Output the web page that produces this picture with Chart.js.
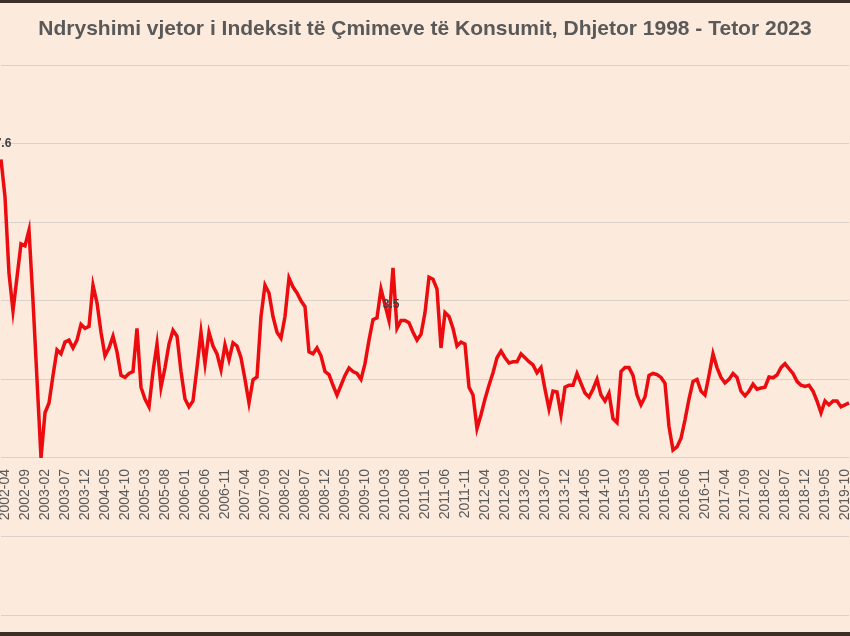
<!DOCTYPE html>
<html>
<head>
<meta charset="utf-8">
<script src="https://cdn.jsdelivr.net/npm/chart.js@4.4.0/dist/chart.umd.min.js"></script>
<style>
  html, body { margin: 0; padding: 0; background: #3b2f27; }
  body { width: 850px; height: 636px; overflow: hidden; position: relative; }
  #wrap { position: absolute; left: 0; top: 3px; width: 850px; height: 629px; background: #fcebdd; }
</style>
</head>
<body>
<div id="wrap"><canvas id="chart" width="850" height="629"></canvas></div>
<script>
const titleText = 'Ndryshimi vjetor i Indeksit të Çmimeve të Konsumit, Dhjetor 1998 - Tetor 2023';

// visible part of the series: 2002-03 .. 2019-11, annual CPI change in %
const firstMonth = '2002-03';
const cpi = [
  7.6, 6.65, 4.7, 3.75, 4.6, 5.45, 5.4, 5.8, 4.0, 2.0,
  0.0, 1.15, 1.4, 2.1, 2.75, 2.65, 2.95, 3.0, 2.8, 3.0,
  3.4, 3.3, 3.35, 4.4, 3.95, 3.2, 2.6, 2.8, 3.1, 2.7,
  2.1, 2.05, 2.15, 2.2, 3.3, 1.8, 1.5, 1.3, 2.2, 2.9,
  1.8, 2.3, 2.9, 3.25, 3.1, 2.2, 1.5, 1.3, 1.45, 2.3,
  3.2, 2.4, 3.2, 2.85, 2.65, 2.25, 2.88, 2.5, 2.93, 2.85,
  2.55, 2.0, 1.4, 1.99, 2.06, 3.6, 4.4, 4.2, 3.6, 3.2,
  3.05, 3.6, 4.58, 4.35, 4.2, 4.0, 3.85, 2.7, 2.65, 2.8,
  2.6, 2.2, 2.12, 1.85, 1.6, 1.85, 2.1, 2.29, 2.2, 2.15,
  2.0, 2.4, 3.0, 3.52, 3.57, 4.3, 3.9, 3.5, 4.84, 3.3,
  3.5, 3.5, 3.44, 3.2, 3.0, 3.15, 3.7, 4.6, 4.55, 4.3,
  2.8, 3.7, 3.6, 3.3, 2.85, 2.95, 2.9, 1.8, 1.6, 0.75,
  1.1, 1.5, 1.85, 2.17, 2.55, 2.72, 2.55, 2.42, 2.45, 2.45,
  2.65, 2.55, 2.45, 2.37, 2.17, 2.3, 1.75, 1.25, 1.7, 1.68,
  1.1, 1.8, 1.85, 1.85, 2.15, 1.9, 1.65, 1.55, 1.75, 2.0,
  1.6, 1.45, 1.65, 1.0, 0.9, 2.2, 2.3, 2.3, 2.1, 1.6,
  1.35, 1.55, 2.1, 2.15, 2.12, 2.05, 1.9, 0.8, 0.2, 0.28,
  0.5, 0.97, 1.5, 1.95, 2.0, 1.7, 1.6, 2.1, 2.65, 2.3,
  2.05, 1.91, 2.0, 2.15, 2.05, 1.7, 1.58, 1.7, 1.88, 1.75,
  1.78, 1.8, 2.06, 2.04, 2.11, 2.3, 2.4, 2.27, 2.15, 1.95,
  1.85, 1.82, 1.85, 1.7, 1.45, 1.15, 1.45, 1.35, 1.45, 1.45,
  1.3, 1.35, 1.4
];

const tickLabels = [
  '2002-04', '2002-09', '2003-02', '2003-07', '2003-12', '2004-05', '2004-10',
  '2005-03', '2005-08', '2006-01', '2006-06', '2006-11', '2007-04', '2007-09',
  '2008-02', '2008-07', '2008-12', '2009-05', '2009-10', '2010-03', '2010-08',
  '2011-01', '2011-06', '2011-11', '2012-04', '2012-09', '2013-02', '2013-07',
  '2013-12', '2014-05', '2014-10', '2015-03', '2015-08', '2016-01', '2016-06',
  '2016-11', '2017-04', '2017-09', '2018-02', '2018-07', '2018-12', '2019-05',
  '2019-10'
];

// points that carry a value label
const labelledMonths = ['2002-03', '2010-04'];

// month categories, one per value
const months = [];
{
  let [y, m] = firstMonth.split('-').map(Number);
  for (let i = 0; i < cpi.length; i++) {
    months.push(y + '-' + String(m).padStart(2, '0'));
    m++;
    if (m > 12) { m = 1; y++; }
  }
}

const gridColor = '#d9d2cb';
const textColor = '#595959';

const pointLabels = {
  id: 'pointLabels',
  afterDatasetsDraw(chart) {
    const meta = chart.getDatasetMeta(0);
    const ctx = chart.ctx;
    ctx.save();
    ctx.font = 'bold 12px "Liberation Sans"';
    ctx.fillStyle = '#404040';
    ctx.textAlign = 'center';
    ctx.textBaseline = 'bottom';
    labelledMonths.forEach((mo) => {
      const i = months.indexOf(mo);
      const pt = meta.data[i];
      ctx.fillText(cpi[i].toFixed(1), pt.x + 2, pt.y - 10);
    });
    ctx.restore();
  }
};

new Chart(document.getElementById('chart'), {
  type: 'line',
  data: {
    labels: months,
    datasets: [
      {
        data: cpi,
        borderColor: '#ec0c10',
        borderWidth: 3.5,
        tension: 0,
        pointRadius: 0,
        fill: false,
      },
    ],
  },
  options: {
    responsive: false,
    animation: false,
    layout: { padding: { left: 1, right: 1, top: 0, bottom: 17 } },
    plugins: {
      legend: { display: false },
      tooltip: { enabled: false },
      title: {
        display: true,
        text: titleText,
        color: textColor,
        font: { family: 'Liberation Sans', size: 21, weight: 'bold' },
        padding: { top: 14, bottom: 23 },
      },
    },
    scales: {
      x: {
        type: 'category',
        offset: false,
        position: { y: 0 },
        grid: { display: false },
        border: { display: false },
        afterFit(scale) {
          // the plot runs to both edges of the picture
          scale.paddingLeft = 0;
          scale.paddingRight = 0;
        },
        ticks: {
          autoSkip: false,
          minRotation: 90,
          maxRotation: 90,
          padding: 3,
          color: textColor,
          font: { family: 'Liberation Sans', size: 14 },
          callback(value) {
            const lab = this.getLabelForValue(value);
            return tickLabels.includes(lab) ? lab : null;
          },
        },
      },
      y: {
        min: -4,
        max: 10,
        ticks: { display: false, stepSize: 2 },
        grid: { color: gridColor, lineWidth: 1, drawTicks: false },
        border: { display: false },
      },
    },
  },
  plugins: [pointLabels],
});
</script>
</body>
</html>
